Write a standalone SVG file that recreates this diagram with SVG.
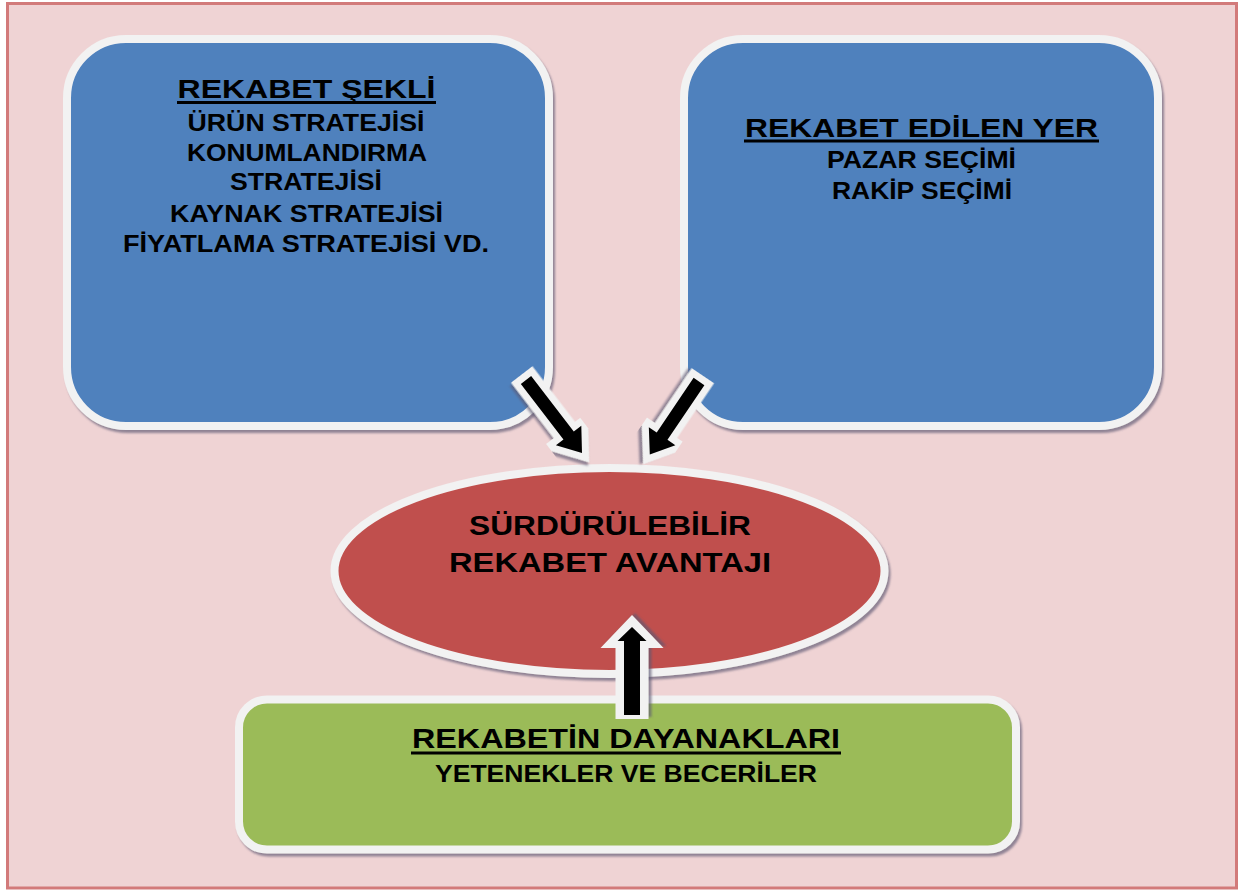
<svg xmlns="http://www.w3.org/2000/svg" xmlns:xlink="http://www.w3.org/1999/xlink" width="1246" height="891" viewBox="0 0 1246 891">
  <style>
    .frame { fill: #efd3d4; stroke: #d27a7a; stroke-width: 3; }
    .card { stroke: #f2f2f2; stroke-width: 8; filter: url(#shadow); }
    .blue { fill: #4f81bd; }
    .red { fill: #c0504d; }
    .green { fill: #9bbb59; }
    text { font-family: "Liberation Sans", Arial, sans-serif; font-weight: bold; fill: #000; text-anchor: middle; }
    .title { font-size: 26px; }
    .item { font-size: 23px; }
    .uline { stroke: #000; stroke-width: 3; }
    .arrow-outline { fill: #f2f2f2; stroke: #f2f2f2; stroke-width: 14; stroke-linejoin: miter; stroke-miterlimit: 10; filter: url(#shadow); }
    .arrow-halo { fill: #f2f2f2; filter: url(#shadow); }
    .arrow-body { fill: #000; }
  </style>
  <defs>
    <filter id="shadow" x="-10%" y="-10%" width="130%" height="130%">
      <feDropShadow dx="2" dy="3" stdDeviation="1.2" flood-color="#5c5872" flood-opacity="0.65"/>
    </filter>
    <!-- block arrows pointing along +x, tail at the origin -->
    <path id="diag-arrow" d="M0,-6.5 L70,-6.5 L70,-16 L92,0 L70,16 L70,6.5 L0,6.5 Z"/>
    <path id="diag-arrow-short" d="M0,-6.5 L66,-6.5 L66,-16 L88,0 L66,16 L66,6.5 L0,6.5 Z"/>
    <path id="up-arrow" d="M0,-8 L74,-8 L74,-14.5 L88,0 L74,14.5 L74,8 L0,8 Z"/>
    <path id="up-arrow-halo" d="M-4,-16.5 L67,-16.5 L67,-31.5 L100,0 L67,31.5 L67,16.5 L-4,16.5 Z"/>
  </defs>

  <!-- page background -->
  <rect class="frame" x="7.5" y="3.5" width="1229" height="884.5"/>

  <!-- competition form -->
  <g id="rekabet-sekli">
    <rect class="card blue" x="67" y="39" width="482" height="387" rx="59" ry="59"/>
    <text class="title" x="306.5" y="98" textLength="258" lengthAdjust="spacingAndGlyphs">REKABET ŞEKLİ</text>
    <line class="uline" x1="177" y1="102.5" x2="436" y2="102.5"/>
    <text class="item" x="306" y="131" textLength="237" lengthAdjust="spacingAndGlyphs">ÜRÜN STRATEJİSİ</text>
    <text class="item" x="307" y="161" textLength="240" lengthAdjust="spacingAndGlyphs">KONUMLANDIRMA</text>
    <text class="item" x="306" y="190" textLength="152" lengthAdjust="spacingAndGlyphs">STRATEJİSİ</text>
    <text class="item" x="306.5" y="221.5" textLength="273" lengthAdjust="spacingAndGlyphs">KAYNAK STRATEJİSİ</text>
    <text class="item" x="306" y="252" textLength="366" lengthAdjust="spacingAndGlyphs">FİYATLAMA STRATEJİSİ VD.</text>
  </g>

  <!-- where competition happens -->
  <g id="rekabet-edilen-yer">
    <rect class="card blue" x="684" y="39" width="474" height="387" rx="59" ry="59"/>
    <text class="title" x="921.5" y="136.5" textLength="353" lengthAdjust="spacingAndGlyphs">REKABET EDİLEN YER</text>
    <line class="uline" x1="744" y1="141" x2="1099" y2="141"/>
    <text class="item" x="921.5" y="168" textLength="189" lengthAdjust="spacingAndGlyphs">PAZAR SEÇİMİ</text>
    <text class="item" x="922" y="198.5" textLength="180" lengthAdjust="spacingAndGlyphs">RAKİP SEÇİMİ</text>
  </g>

  <!-- sustainable competitive advantage -->
  <g id="surdurulebilir-avantaj">
    <ellipse class="card red" cx="609.5" cy="571" rx="275" ry="103"/>
    <text class="title" style="font-size:27px" x="610" y="535" textLength="282" lengthAdjust="spacingAndGlyphs">SÜRDÜRÜLEBİLİR</text>
    <text class="title" style="font-size:27px" x="610" y="572" textLength="322" lengthAdjust="spacingAndGlyphs">REKABET AVANTAJI</text>
  </g>

  <!-- foundations of competition -->
  <g id="rekabetin-dayanaklari">
    <rect class="card green" x="239" y="699.5" width="777" height="150" rx="28" ry="28"/>
    <text class="title" style="font-size:28px" x="626" y="748" textLength="428" lengthAdjust="spacingAndGlyphs">REKABETİN DAYANAKLARI</text>
    <line class="uline" x1="411" y1="753" x2="841" y2="753"/>
    <text class="item" style="font-size:24px" x="626" y="781.5" textLength="382" lengthAdjust="spacingAndGlyphs">YETENEKLER VE BECERİLER</text>
  </g>

  <!-- connectors -->
  <g id="connectors">
    <g transform="translate(526,380) rotate(52.5)">
      <use xlink:href="#diag-arrow" class="arrow-outline"/>
      <use xlink:href="#diag-arrow" class="arrow-body"/>
    </g>
    <g transform="translate(699,381.5) rotate(124)">
      <use xlink:href="#diag-arrow-short" class="arrow-outline"/>
      <use xlink:href="#diag-arrow-short" class="arrow-body"/>
    </g>
    <g transform="translate(632,715) rotate(-90)">
      <use xlink:href="#up-arrow-halo" class="arrow-halo"/>
      <use xlink:href="#up-arrow" class="arrow-body"/>
    </g>
  </g>
</svg>
